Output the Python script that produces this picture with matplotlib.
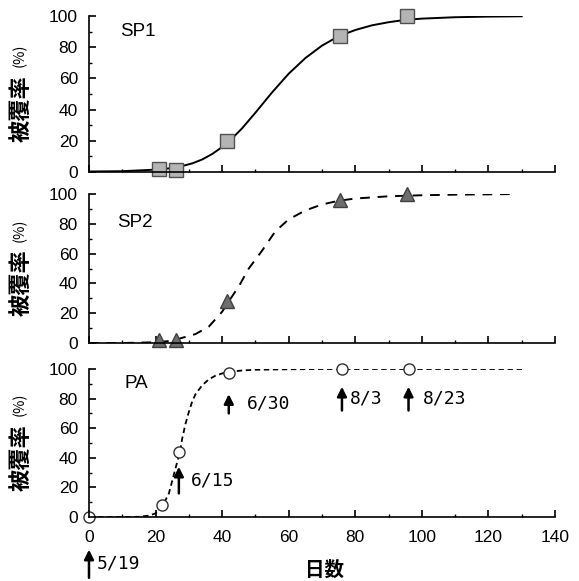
import matplotlib.pyplot as plt
from matplotlib.ticker import MultipleLocator

plt.rcParams['font.family'] = ['Liberation Sans', 'Noto Sans CJK JP', 'DejaVu Sans']

# observed coverage (%)
sp1_days = [21, 26, 41.5, 75.5, 95.5]
sp1_cover = [2, 1, 20, 87, 100]
sp2_days = [21, 26, 41.5, 75.5, 95.5]
sp2_cover = [2, 2, 28, 96, 100]
pa_days = [0, 22, 27, 42, 76, 96]
pa_cover = [0, 8, 44, 97.5, 100, 100]

# fitted curves, read at fixed days
sp1_fit_days = [0, 10, 20, 25, 28, 31, 34, 37, 40, 43, 46, 50, 55, 60, 65, 70,
                75, 80, 85, 90, 95, 100, 110, 120, 130]
sp1_fit = [0.3, 0.5, 1.5, 2.5, 3.8, 5.5, 8, 11.5, 16, 21.5, 28, 38, 51, 63, 73,
           81, 87, 91, 94, 96, 97.5, 98.3, 99.2, 99.6, 99.8]
sp2_fit_days = [0, 10, 20, 25, 28, 32, 36, 40, 42, 45, 48, 52, 56, 60, 65, 70,
                75, 80, 90, 100, 110, 120, 127]
sp2_fit = [0, 0, 0.5, 1.5, 3.5, 6, 11, 21, 28, 38, 50, 62, 75, 83, 89, 93,
           95.5, 97, 98.5, 99.2, 99.6, 99.8, 100]
pa_fit_days = [0, 5, 10, 15, 18, 20, 22, 24, 26, 27.3, 28, 29, 30, 31, 32, 34,
               36, 38, 40, 42, 46, 50, 60, 70, 80, 100, 120, 131]
pa_fit = [0, 0, 0, 0.2, 1, 2.5, 7, 16, 33, 44, 53, 63, 71, 78, 83, 89,
          93, 95.5, 97, 98, 99, 99.5, 99.8, 100, 100, 100, 100, 100]

# sampling dates on the PA panel
date_days = [0, 27, 42, 76, 96]
date_labels = ['5/19', '6/15', '6/30', '8/3', '8/23']

fig = plt.figure(figsize=(5.79, 5.81), dpi=100)
left, width = 0.1537, 0.8048
ax1 = fig.add_axes([left, 0.704, width, 0.2685])
ax2 = fig.add_axes([left, 0.4096, width, 0.2564])
ax3 = fig.add_axes([left, 0.110, width, 0.2549])

for ax in (ax1, ax2, ax3):
    ax.set_xlim(0, 140)
    ax.set_ylim(0, 100)
    ax.spines['top'].set_visible(False)
    ax.spines['right'].set_visible(False)
    ax.spines['left'].set_linewidth(1.2)
    ax.spines['bottom'].set_linewidth(1.2)
    ax.xaxis.set_major_locator(MultipleLocator(20))
    ax.xaxis.set_minor_locator(MultipleLocator(10))
    ax.yaxis.set_major_locator(MultipleLocator(20))
    ax.yaxis.set_minor_locator(MultipleLocator(10))
    ax.tick_params(which='major', direction='in', length=5, width=1.2,
                   labelsize=12.5)
    ax.tick_params(axis='y', which='major', pad=8)
    ax.tick_params(axis='x', which='major', pad=9)
    ax.tick_params(which='minor', direction='in', length=2.5, width=1)
    yc = (ax.get_position().y0 + ax.get_position().y1) / 2
    fig.text(0.036, yc - 0.025, '被覆率', rotation=90, ha='center',
             va='center', fontsize=16, fontweight='bold',
             family='Noto Sans CJK JP')
    fig.text(0.034, yc + 0.066, '(%)', rotation=90, ha='center',
             va='center', fontsize=10.5, family='Noto Sans CJK JP')

ax1.tick_params(labelbottom=False)
ax2.tick_params(labelbottom=False)

ax1.plot(sp1_fit_days, sp1_fit, color='black', lw=1.4)
ax1.plot(sp1_days, sp1_cover, 's', ms=9.5, mfc='#b4b4b4', mec='#505050',
         mew=1, clip_on=False)
ax1.text(9.3, 90, 'SP1', fontsize=13.5, va='center')

ax2.plot(sp2_fit_days, sp2_fit, color='black', lw=1.4, dashes=(5, 4))
ax2.plot(sp2_days, sp2_cover, '^', ms=10, mfc='#6e6e6e', mec='#404040',
         mew=1, clip_on=False)
ax2.text(8.5, 81, 'SP2', fontsize=13.5, va='center')

ax3.plot(pa_fit_days, pa_fit, color='black', lw=1.3, dashes=(3, 2))
ax3.plot(pa_days, pa_cover, 'o', ms=8, mfc='white', mec='#303030',
         mew=1, clip_on=False)
ax3.text(10.8, 90.5, 'PA', fontsize=13.5, va='center')

# arrows marking sampling dates
arrow_y = {0: (-41, -22), 27: (16, 34), 42: (70, 83), 76: (72, 88), 96: (72, 88)}
text_gap = {0: 2.3, 27: 3.6, 42: 5.3, 76: 2.3, 96: 4.4}
for d, lab in zip(date_days, date_labels):
    y0, y1 = arrow_y[d]
    ax3.annotate('', xy=(d, y1), xytext=(d, y0), annotation_clip=False,
                 arrowprops=dict(arrowstyle='-|>', color='black', lw=1.8,
                                 mutation_scale=14, shrinkA=0, shrinkB=0))
    ax3.text(d + text_gap[d], (y0 + y1) / 2, lab, fontsize=13, va='center',
             family='DejaVu Sans Mono', clip_on=False)

fig.text(0.5596, 0.019, '日数', ha='center', va='center', fontsize=14,
         fontweight='bold', family='Noto Sans CJK JP')

fig.savefig('out.png', dpi=100)
